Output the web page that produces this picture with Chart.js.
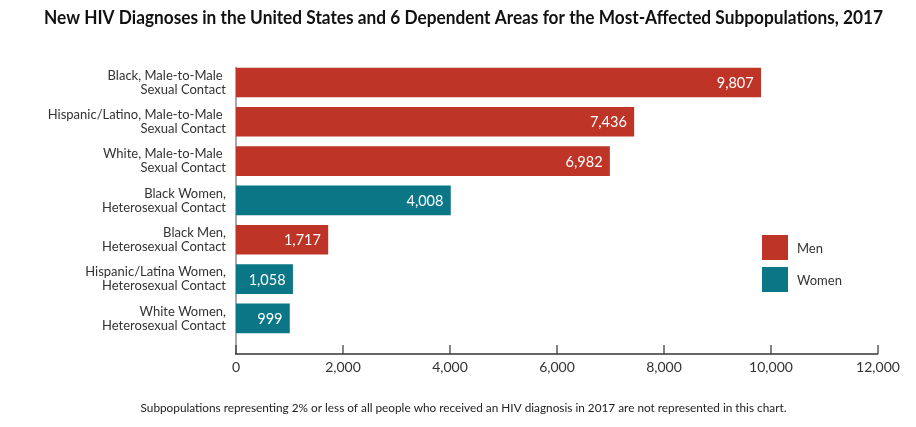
<!DOCTYPE html>
<html>
<head>
<meta charset="utf-8">
<script src="https://cdn.jsdelivr.net/npm/chart.js@4.4.1/dist/chart.umd.min.js"></script>
<style>
  body { margin: 0; background: #fff; }
  #wrap { position: relative; width: 916px; height: 427px; }
  #legend { position: absolute; left: 762px; top: 235px; font: 13px Lato, sans-serif; color: #333; }
  #legend .item { display: flex; align-items: center; height: 25px; margin-bottom: 7px; }
  #legend .box { width: 26px; height: 25px; margin-right: 9px; }
</style>
</head>
<body>
<div id="wrap">
  <canvas id="hivChart"></canvas>
  <div id="legend"></div>
</div>
<script>
var categories = [
    ["Black, Male-to-Male ", "Sexual Contact"],
    ["Hispanic/Latino, Male-to-Male ", "Sexual Contact"],
    ["White, Male-to-Male ", "Sexual Contact"],
    ["Black Women,", "Heterosexual Contact"],
    ["Black Men,", "Heterosexual Contact"],
    ["Hispanic/Latina Women,", "Heterosexual Contact"],
    ["White Women,", "Heterosexual Contact"]
];
var menValues = [9807, 7436, 6982, null, 1717, null, null];
var womenValues = [null, null, null, 4008, null, 1058, 999];
var xTicks = [0, 2000, 4000, 6000, 8000, 10000, 12000];

var RED = "#BE3427";
var TEAL = "#0B7686";

// axis line with tick marks pointing up, sitting a bit below the bars
var axisPlugin = {
    id: "axisLine",
    beforeDatasetsDraw: function (chart) {
        var ctx = chart.ctx, x = chart.scales.x, area = chart.chartArea;
        var y0 = area.bottom + 16;
        var x0 = x.getPixelForValue(0);
        ctx.save();
        ctx.strokeStyle = "#555";
        ctx.lineWidth = 1;
        ctx.beginPath();
        ctx.moveTo(x0, area.top + 4);
        ctx.lineTo(x0, y0);
        ctx.stroke();
        ctx.strokeStyle = "#333";
        ctx.lineWidth = 1.6;
        ctx.beginPath();
        ctx.moveTo(x0 - 1, y0);
        ctx.lineTo(x.getPixelForValue(xTicks[xTicks.length - 1]), y0);
        ctx.stroke();
        ctx.lineWidth = 1.2;
        xTicks.forEach(function (v) {
            var px = x.getPixelForValue(v);
            ctx.beginPath();
            ctx.moveTo(px, y0 - 9);
            ctx.lineTo(px, y0);
            ctx.stroke();
        });
        ctx.restore();
    }
};

var valueLabels = {
    id: "valueLabels",
    afterDatasetsDraw: function (chart) {
        var ctx = chart.ctx;
        ctx.save();
        ctx.fillStyle = "#fff";
        ctx.font = "14.5px Lato";
        ctx.textAlign = "right";
        ctx.textBaseline = "middle";
        chart.data.datasets.forEach(function (ds, i) {
            chart.getDatasetMeta(i).data.forEach(function (bar, j) {
                if (ds.data[j] == null) return;
                ctx.fillText(ds.data[j].toLocaleString("en-US"), bar.x - 7, bar.y + 1);
            });
        });
        ctx.restore();
    }
};

var ctx = document.getElementById("hivChart").getContext("2d");
var chart = new Chart(ctx, {
    type: "bar",
    data: {
        labels: categories,
        datasets: [
            { label: "Men", data: menValues, backgroundColor: RED, barThickness: 29 },
            { label: "Women", data: womenValues, backgroundColor: TEAL, barThickness: 29 }
        ]
    },
    options: {
        indexAxis: "y",
        responsive: true,
        maintainAspectRatio: false,
        animation: false,
        layout: { padding: { left: 44, right: 33, top: 0, bottom: 0 } },
        scales: {
            x: {
                stacked: true,
                min: 0,
                max: 12000,
                afterBuildTicks: function (scale) {
                    scale.ticks = xTicks.map(function (v) { return { value: v }; });
                },
                afterFit: function (scale) { scale.paddingRight = 38; },
                grid: { display: false, drawTicks: false },
                border: { display: false },
                ticks: {
                    padding: 21,
                    color: "#333",
                    font: { family: "Lato", size: 14 },
                    callback: function (v) { return v.toLocaleString("en-US"); }
                }
            },
            y: {
                stacked: true,
                afterFit: function (scale) { scale.width = 192; },
                grid: { display: false, drawTicks: false },
                border: { display: false },
                ticks: {
                    padding: 10,
                    color: "#333",
                    font: { family: "Lato", size: 13, lineHeight: 1.08 }
                }
            }
        },
        plugins: {
            legend: { display: false },
            tooltip: { enabled: false },
            title: {
                display: true,
                text: "New HIV Diagnoses in the United States and 6 Dependent Areas for the Most-Affected Subpopulations, 2017",
                color: "#111",
                font: { family: "Lato", size: 19, weight: "bold" },
                padding: { top: 6, bottom: 34 }
            },
            subtitle: {
                display: true,
                position: "bottom",
                text: "Subpopulations representing 2% or less of all people who received an HIV diagnosis in 2017 are not represented in this chart.",
                color: "#222",
                font: { family: "Lato", size: 11.8 },
                padding: { top: 4, bottom: 12 }
            }
        }
    },
    plugins: [axisPlugin, valueLabels]
});

var legend = document.getElementById("legend");
chart.data.datasets.forEach(function (ds) {
    var item = document.createElement("div");
    item.className = "item";
    item.innerHTML = '<span class="box" style="background:' + ds.backgroundColor + '"></span>' + ds.label;
    legend.appendChild(item);
});
</script>
</body>
</html>
